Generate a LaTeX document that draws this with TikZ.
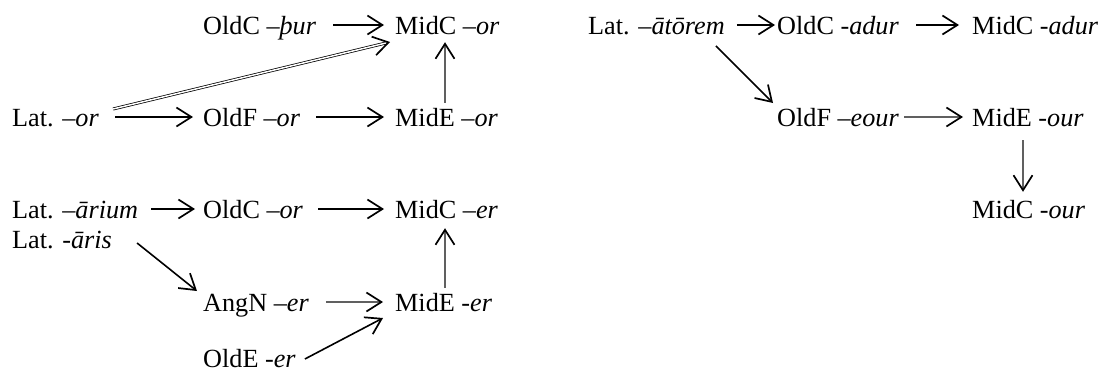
\documentclass[tikz,border=0pt]{standalone}
\usepackage{fontspec}
\setmainfont{Liberation Serif}
\usetikzlibrary{arrows.meta}

\begin{document}
\begin{tikzpicture}[x=1pt,y=-1pt,
  word/.style={anchor=base west, inner sep=0pt, text height=19pt, text depth=1pt,
    font=\fontsize{26.2}{30}\selectfont},
  arr/.style={line width=1.6pt,
    -{Straight Barb[length=15pt,width=19pt,line width=1.7pt,color=black]}},
  garr/.style={arr, draw=gray!75!black, line width=2.2pt},
  dbl/.style={double, double distance=1.5pt, line width=0.75pt,
    -{Straight Barb[length=15pt,width=19pt,line width=1.7pt,color=black]}}
]
\useasboundingbox (0,0) rectangle (1103,373);

% left block: -or / -er
\node[word] (pur)      at (203,34)  {OldC \textit{–þur}};
\node[word] (midcOr)   at (395,34)  {MidC \textit{–or}};
\node[word] (latOr)    at (12,126)  {Lat. \textit{–or}};
\node[word] (oldFor)   at (203,126) {OldF \textit{–or}};
\node[word] (midEor)   at (395,126) {MidE \textit{–or}};
\node[word] (latArium) at (12,218)  {Lat. \textit{–ārium}};
\node[word] (latAris)  at (12,248)  {Lat. \textit{-āris}};
\node[word] (oldCor)   at (203,218) {OldC \textit{–or}};
\node[word] (midCer)   at (395,218) {MidC \textit{–er}};
\node[word] (angN)     at (203,311) {AngN \textit{–er}};
\node[word] (midEer)   at (395,311) {MidE \textit{-er}};
\node[word] (oldE)     at (203,367) {OldE \textit{-er}};

% right block: -our / -adur
\node[word] (atorem)   at (588,34)  {Lat. \textit{–ātōrem}};
\node[word] (oldCadur) at (777,34)  {OldC \textit{-adur}};
\node[word] (midCadur) at (972,34)  {MidC \textit{-adur}};
\node[word] (oldFeour) at (777,126) {OldF \textit{–eour}};
\node[word] (midEour)  at (972,126) {MidE \textit{-our}};
\node[word] (midCour)  at (972,218) {MidC \textit{-our}};

% horizontal connectors
\draw[arr, shorten <=17pt, shorten >=11pt] (pur.east) -- (midcOr.west);
\draw[arr, shorten <=16pt, shorten >=10pt] (latOr.east) -- (oldFor.west);
\draw[arr, shorten <=16pt, shorten >=11pt] (oldFor.east) -- (midEor.west);
\draw[arr, shorten <=13pt, shorten >=8pt]  (latArium.east) -- (oldCor.west);
\draw[arr, shorten <=15pt, shorten >=11pt] (oldCor.east) -- (midCer.west);
\draw[garr, shorten <=17pt, shorten >=12pt] (angN.east) -- (midEer.west);
\draw[arr, shorten <=12pt, shorten >=2pt]  (atorem.east) -- (oldCadur.west);
\draw[arr, shorten <=17pt, shorten >=13pt] (oldCadur.east) -- (midCadur.west);
\draw[garr, shorten <=5pt, shorten >=9pt]  (oldFeour.east) -- (midEour.west);

% vertical connectors
\draw[garr, shorten <=4pt, shorten >=7pt]
  ([xshift=50pt]midEor.north west) -- ([xshift=50pt]midcOr.south west);
\draw[garr, shorten <=4pt, shorten >=9pt]
  ([xshift=50pt]midEer.north west) -- ([xshift=50pt]midCer.south west);
\draw[garr, shorten <=13pt, shorten >=7pt]
  ([xshift=51pt]midEour.south west) -- ([xshift=51pt]midCour.north west);

% diagonal connectors
\draw[dbl] ([shift={(14,-17)}]latOr.base east) -- ([shift={(-5,8)}]midcOr.base west);
\draw[arr] ([shift={(25,-5)}]latAris.base east) -- ([shift={(-6,-20)}]angN.base west);
\draw[arr] ([shift={(9,-8)}]oldE.base east) -- ([shift={(-12,7)}]midEer.base west);
\draw[arr] ([shift={(-9,12)}]atorem.base east) -- ([shift={(-4,-23)}]oldFeour.base west);
\end{tikzpicture}
\end{document}
